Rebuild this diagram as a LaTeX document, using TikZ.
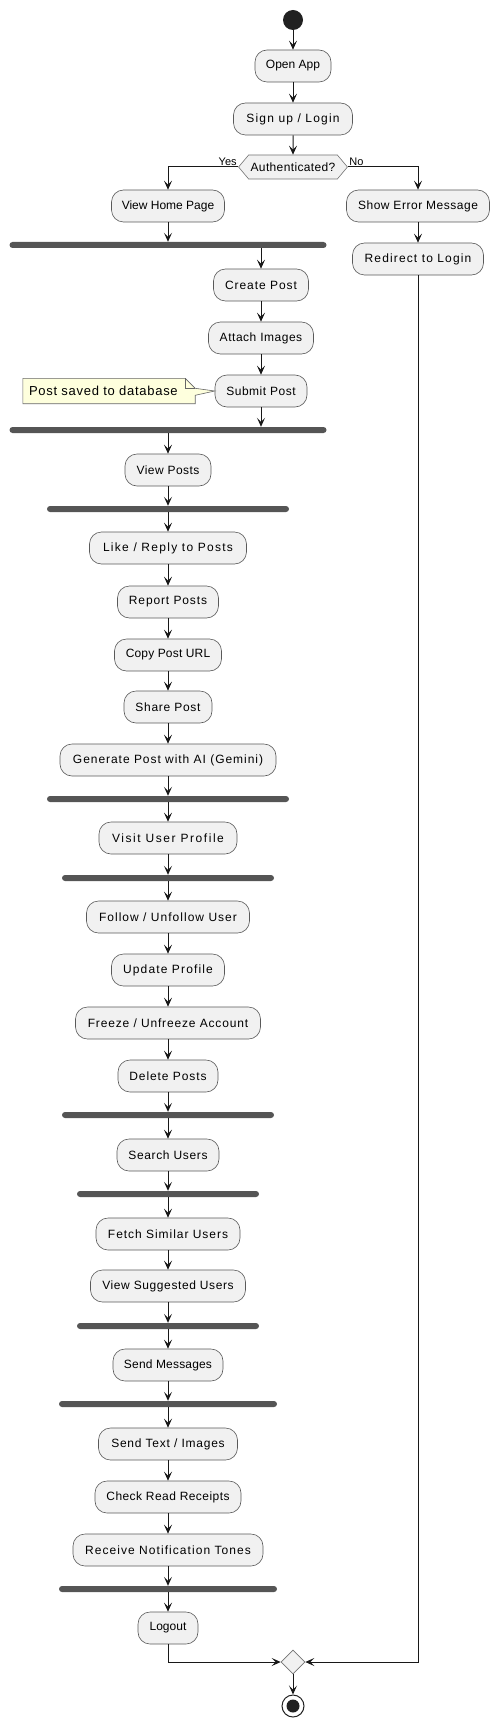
\documentclass[tikz,border=0pt]{standalone}
\usepackage{fontspec}
\setmainfont{Liberation Sans}
\usetikzlibrary{positioning, arrows.meta, shapes.symbols, shapes.geometric}
\definecolor{actfill}{HTML}{F1F1F1}
\definecolor{linecol}{HTML}{181818}
\definecolor{barcol}{HTML}{555555}
\definecolor{notefill}{HTML}{FEFFDD}
\begin{document}
\begin{tikzpicture}[x=1pt,y=1pt,node distance=53pt,on grid,
    >={Stealth[length=9pt,width=8pt,inset=4pt]},
    flow/.style={->,line width=1pt,draw=linecol},
    act/.style={rectangle,rounded corners=12pt,draw=black!65,line width=0.6pt,fill=actfill,
      minimum height=32pt,inner sep=4pt,text=black,font=\fontsize{12}{14}\selectfont},
    ls/.style={font=\fontsize{12}{14}\selectfont\addfontfeatures{LetterSpace=#1}},
    bar/.style={rectangle,rounded corners=3pt,fill=barcol,minimum height=6pt,inner sep=0pt},
    decide/.style={signal,signal to=east and west,signal pointer angle=100,draw=black!55,
      line width=0.6pt,fill=actfill,minimum width=107pt,minimum height=24pt,inner sep=2pt},
    merger/.style={diamond,draw=black!55,line width=0.6pt,fill=actfill,minimum size=24pt,inner sep=0pt},
    startdot/.style={circle,fill=black!87,minimum size=20pt,inner sep=0pt},
    enddot/.style={circle,draw=black!87,line width=1pt,fill=white,minimum size=22pt,inner sep=0pt,
      path picture={\fill[black!87] (path picture bounding box.center) circle (6.5pt);}},
    notebox/.style={draw=black!60,line width=0.6pt,fill=notefill},
    branch/.style={font=\fontsize{11}{12}\selectfont,inner sep=1pt}]
  \useasboundingbox (0,0) rectangle (500,-1728);

  \node[startdot] (start) at (293,-20) {};
  \node[act,minimum width=76pt] (open) [below=46pt of start] {Open App};
  \node[act,ls=10,minimum width=119pt] (sign) [below=of open] {Sign up / Login};
  \node[decide,ls=3] (auth) [below=48pt of sign] {Authenticated?};
  \node[act,minimum width=113pt] (home) [below left=39pt and 125pt of auth] {View Home Page};
  \node[act,ls=4.4,minimum width=143pt] (error) [below right=39pt and 125pt of auth] {Show Error Message};
  \node[act,ls=9.5,minimum width=131pt] (redirect) [below=of error] {Redirect to Login};
  \node[bar,minimum width=317pt] (bar_1) [below=39pt of home] {};
  \node[act,ls=8,minimum width=95pt] (create) [below right=40pt and 93pt of bar_1] {Create Post};
  \node[act,ls=4.4,minimum width=105pt] (attach) [below=of create] {Attach Images};
  \node[act,ls=4.4,minimum width=92pt] (submit) [below=of attach] {Submit Post};
  \node[minimum width=172pt,minimum height=25pt,inner sep=0pt] (note) [left=152pt of submit] {};
  \node[bar,minimum width=317pt] (bar_2) [below left=39pt and 93pt of submit] {};
  \node[act,ls=4,minimum width=86pt] (posts) [below=40pt of bar_2] {View Posts};
  \node[bar,minimum width=242pt] (bar_3) [below=39pt of posts] {};
  \node[act,ls=10.7,minimum width=157pt] (like) [below=39pt of bar_3] {Like / Reply to Posts};
  \node[act,ls=7.3,minimum width=101pt] (report) [below=54pt of like] {Report Posts};
  \node[act,ls=1.5,minimum width=107pt] (copy) [below=of report] {Copy Post URL};
  \node[act,ls=6,minimum width=88pt] (share) [below=52pt of copy] {Share Post};
  \node[act,ls=8,minimum width=216pt] (gen) [below=of share] {Generate Post with AI (Gemini)};
  \node[bar,minimum width=242pt] (bar_4) [below=39pt of gen] {};
  \node[act,ls=13,minimum width=138pt] (visit) [below=39pt of bar_4] {Visit User Profile};
  \node[bar,minimum width=212pt] (bar_5) [below=40pt of visit] {};
  \node[act,ls=8.6,minimum width=163pt] (follow) [below=39pt of bar_5] {Follow / Unfollow User};
  \node[act,ls=9.6,minimum width=113pt] (update) [below=of follow] {Update Profile};
  \node[act,ls=7,minimum width=185pt] (freeze) [below=of update] {Freeze / Unfreeze Account};
  \node[act,ls=7.6,minimum width=100pt] (delete) [below=of freeze] {Delete Posts};
  \node[bar,minimum width=212pt] (bar_6) [below=39pt of delete] {};
  \node[act,ls=5.5,minimum width=102pt] (search) [below=40pt of bar_6] {Search Users};
  \node[bar,minimum width=182pt] (bar_7) [below=39pt of search] {};
  \node[act,ls=8,minimum width=144pt] (fetch) [below=40pt of bar_7] {Fetch Similar Users};
  \node[act,ls=5,minimum width=155pt] (suggest) [below=52pt of fetch] {View Suggested Users};
  \node[bar,minimum width=182pt] (bar_8) [below=40pt of suggest] {};
  \node[act,ls=1.5,minimum width=110pt] (message) [below=39pt of bar_8] {Send Messages};
  \node[bar,minimum width=218pt] (bar_9) [below=39pt of message] {};
  \node[act,ls=6.4,minimum width=139pt] (text) [below=40pt of bar_9] {Send Text / Images};
  \node[act,ls=3.7,minimum width=146pt] (receipt) [below=of text] {Check Read Receipts};
  \node[act,ls=8.8,minimum width=190pt] (tone) [below=of receipt] {Receive Notification Tones};
  \node[bar,minimum width=218pt] (bar_10) [below=39pt of tone] {};
  \node[act,minimum width=60pt] (logout) [below=39pt of bar_10] {Logout};
  \node[merger] (merge) [below right=34pt and 125pt of logout] {};
  \node[enddot] (finish) [below=44pt of merge] {};

  \draw[notebox] (note.north west) -- ([xshift=-10pt]note.north east)
    -- ([yshift=-10pt]note.north east) -- (submit.west)
    -- ([yshift=-17pt]note.north east) -- (note.south east) -- (note.south west) -- cycle;
  \draw[draw=black!60,line width=0.6pt] ([xshift=-10pt]note.north east) |- ([yshift=-10pt]note.north east);
  \node[anchor=west,inner sep=0pt,font=\fontsize{13}{15}\selectfont\addfontfeatures{LetterSpace=5.5}] (notetext)
    at ([xshift=6pt]note.west) {Post saved to database};

  \draw[flow] (start) -- (open);
  \draw[flow] (open) -- (sign);
  \draw[flow] (sign) -- (auth);
  \draw[flow] (auth.west) -| node[branch,pos=0,anchor=south east] {Yes} (home);
  \draw[flow] (auth.east) -| node[branch,pos=0,anchor=south west] {No} (error);
  \draw[flow] (error) -- (redirect);
  \draw[flow] (home) -- (bar_1);
  \draw[flow] (bar_1.south -| create) -- (create);
  \draw[flow] (create) -- (attach);
  \draw[flow] (attach) -- (submit);
  \draw[flow] (submit) -- (submit |- bar_2.north);
  \draw[flow] (bar_2) -- (posts);
  \draw[flow] (posts) -- (bar_3);
  \draw[flow] (bar_3) -- (like);
  \draw[flow] (like) -- (report);
  \draw[flow] (report) -- (copy);
  \draw[flow] (copy) -- (share);
  \draw[flow] (share) -- (gen);
  \draw[flow] (gen) -- (bar_4);
  \draw[flow] (bar_4) -- (visit);
  \draw[flow] (visit) -- (bar_5);
  \draw[flow] (bar_5) -- (follow);
  \draw[flow] (follow) -- (update);
  \draw[flow] (update) -- (freeze);
  \draw[flow] (freeze) -- (delete);
  \draw[flow] (delete) -- (bar_6);
  \draw[flow] (bar_6) -- (search);
  \draw[flow] (search) -- (bar_7);
  \draw[flow] (bar_7) -- (fetch);
  \draw[flow] (fetch) -- (suggest);
  \draw[flow] (suggest) -- (bar_8);
  \draw[flow] (bar_8) -- (message);
  \draw[flow] (message) -- (bar_9);
  \draw[flow] (bar_9) -- (text);
  \draw[flow] (text) -- (receipt);
  \draw[flow] (receipt) -- (tone);
  \draw[flow] (tone) -- (bar_10);
  \draw[flow] (bar_10) -- (logout);
  \draw[flow] (logout) |- (merge);
  \draw[flow] (redirect) |- (merge);
  \draw[flow] (merge) -- (finish);
\end{tikzpicture}
\end{document}
